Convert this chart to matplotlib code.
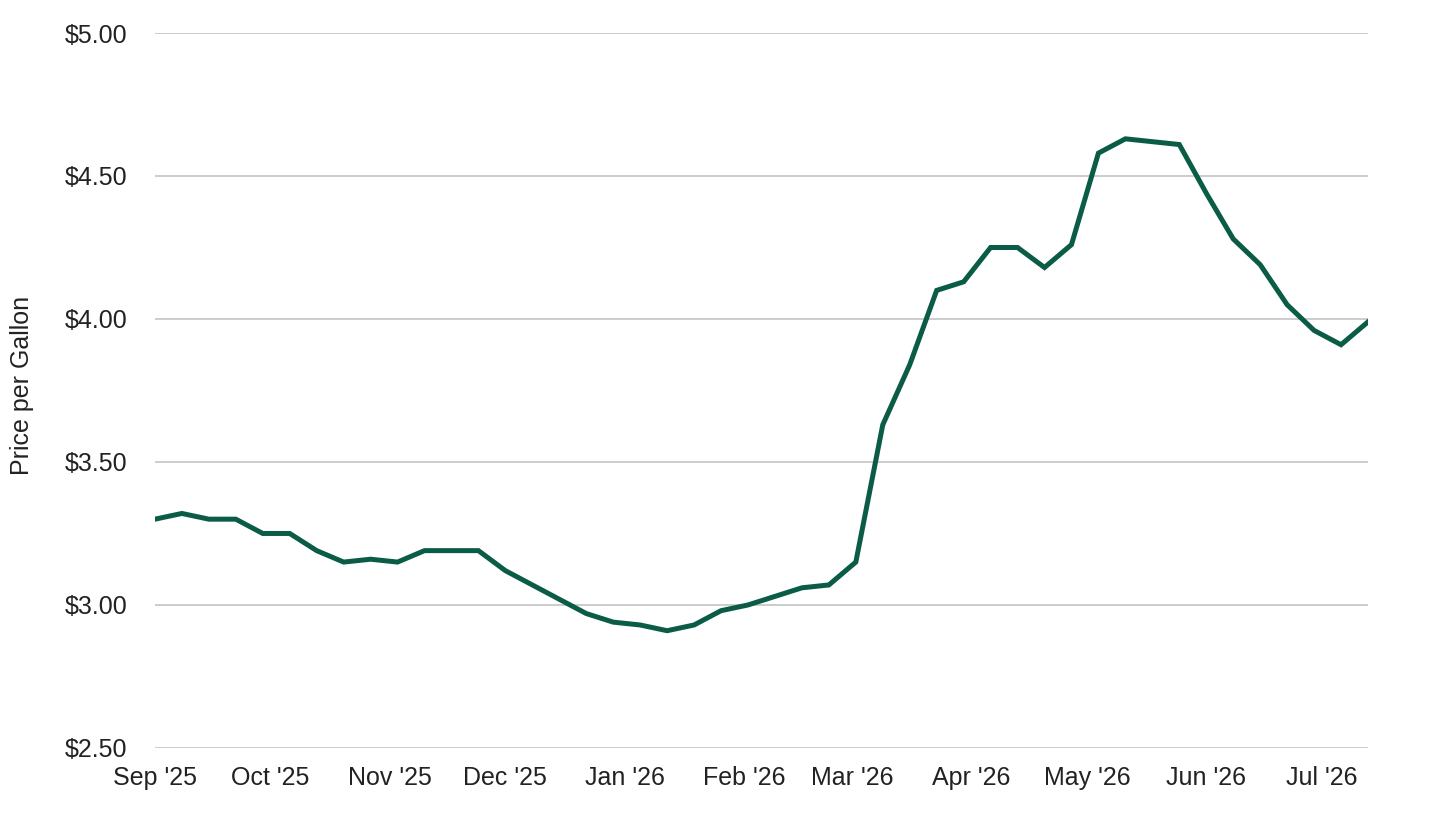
import numpy as np
import pandas as pd
import matplotlib
matplotlib.use("Agg")
import matplotlib.pyplot as plt
import matplotlib.dates as mdates
from matplotlib.ticker import FuncFormatter

# weekly average price per gallon, Mondays from Sep 1 2025
start_date = "2025-09-01"
prices = [3.30, 3.32, 3.30, 3.30, 3.25, 3.25, 3.19, 3.15, 3.16, 3.15,
          3.19, 3.19, 3.19, 3.12, 3.07, 3.02, 2.97, 2.94, 2.93, 2.91,
          2.93, 2.98, 3.00, 3.03, 3.06, 3.07, 3.15, 3.63, 3.84, 4.10,
          4.13, 4.25, 4.25, 4.18, 4.26, 4.58, 4.63, 4.62, 4.61, 4.44,
          4.28, 4.19, 4.05, 3.96, 3.91, 3.99]
dates = pd.date_range(start_date, periods=len(prices), freq="7D")

y_ticks = [2.50, 3.00, 3.50, 4.00, 4.50, 5.00]
y_label = "Price per Gallon"

plt.rcParams['font.family'] = ['Liberation Sans', 'DejaVu Sans']

fig = plt.figure(figsize=(14.4, 8.13), dpi=100)
ax = fig.add_axes([0.1076, 0.08, 0.8424, 0.8794])

ax.plot(dates, prices, color='#0b5c47', linewidth=3.6, solid_joinstyle='miter')

ax.set_xlim(dates[0], dates[-1])
ax.set_ylim(2.5, 5.0)
ax.set_yticks(y_ticks)
ax.yaxis.set_major_formatter(FuncFormatter(lambda v, p: f"${v:.2f}"))
ax.xaxis.set_major_locator(mdates.MonthLocator())
ax.xaxis.set_major_formatter(mdates.DateFormatter("%b '%y"))

ax.grid(axis='y', color='#c4c4c4', linewidth=1.2)
ax.set_axisbelow(True)
for s in ax.spines.values():
    s.set_visible(False)
ax.tick_params(axis='both', length=0, labelsize=18, colors='#222222')
ax.tick_params(axis='x', pad=13)
ax.tick_params(axis='y', pad=20)

fig.text(22 / 1440, 1 - 385 / 813, y_label, rotation=90, fontsize=18,
         color='#222222', ha='center', va='center')

fig.savefig("out.png", dpi=100)
